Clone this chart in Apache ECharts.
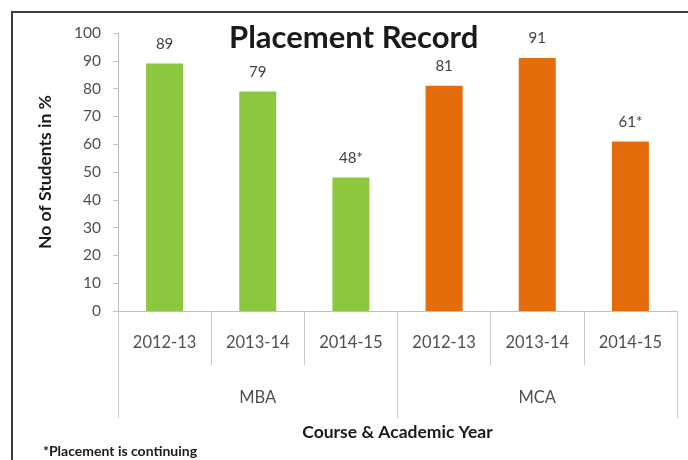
<!DOCTYPE html>
<html>
<head>
<meta charset="utf-8">
<script src="https://cdn.jsdelivr.net/npm/echarts@6/dist/echarts.min.js"></script>
<style>
  html, body {margin: 0; padding: 0; background: #fff;}
  #chart {width: 688px; height: 460px;}
</style>
</head>
<body>
<div id="chart"></div>
<script>
const years = ['2012-13', '2013-14', '2014-15', '2012-13', '2013-14', '2014-15'];
const courses = ['MBA', 'MCA'];
const mbaValues = [89, 79, 48];
const mcaValues = [81, 91, 61];
const barLabels = ['89', '79', '48*', '81', '91', '61*'];
const yTicks = [0, 10, 20, 30, 40, 50, 60, 70, 80, 90, 100];

const font = 'Lato, "Noto Sans", sans-serif';
const green = '#8CC83F';
const orange = '#E46C0A';

const chart = echarts.init(document.getElementById('chart'));

const barData = mbaValues.map(v => ({value: v, itemStyle: {color: green}}))
  .concat(mcaValues.map(v => ({value: v, itemStyle: {color: orange}})));

chart.setOption({
  animation: false,
  textStyle: {fontFamily: font},
  title: {
    text: 'Placement Record',
    left: 224,
    top: 17,
    textStyle: {fontFamily: font, fontSize: 31, fontWeight: 'bold', color: '#1a1a1a'}
  },
  grid: {left: 118, right: 11, top: 33, bottom: 149},
  xAxis: [{
    type: 'category',
    data: years,
    position: 'bottom',
    axisLine: {lineStyle: {color: '#BFBFBF', width: 1}},
    axisTick: {show: true, interval: 0, length: 54, lineStyle: {color: '#C8C8C8'}},
    axisLabel: {interval: 0, margin: 23, fontSize: 16.5, color: '#505050', fontFamily: font}
  }, {
    type: 'category',
    data: courses,
    position: 'bottom',
    axisLine: {show: false},
    axisTick: {show: true, interval: 0, length: 107, lineStyle: {color: '#C8C8C8'}},
    axisLabel: {interval: 0, margin: 78, fontSize: 16.5, color: '#505050', fontFamily: font},
    name: 'Course & Academic Year',
    nameLocation: 'middle',
    nameGap: 112,
    nameTextStyle: {fontSize: 17.5, fontWeight: 'bold', color: '#1a1a1a', fontFamily: font}
  }],
  yAxis: {
    type: 'value',
    min: yTicks[0],
    max: yTicks[yTicks.length - 1],
    interval: 10,
    axisLine: {show: true, lineStyle: {color: '#BFBFBF'}},
    axisTick: {show: true, length: 5, lineStyle: {color: '#BFBFBF'}},
    splitLine: {show: false},
    axisLabel: {margin: 17, fontSize: 15.5, color: '#505050', fontFamily: font},
    name: 'No of Students in %',
    nameLocation: 'middle',
    nameRotate: 90,
    nameGap: 64,
    nameTextStyle: {fontSize: 17.5, fontWeight: 'bold', color: '#1a1a1a', fontFamily: font}
  },
  series: [{
    type: 'bar',
    xAxisIndex: 0,
    barWidth: 37,
    data: barData,
    label: {
      show: true,
      position: 'top',
      distance: 12,
      fontSize: 15,
      color: '#404040',
      fontFamily: font,
      formatter: p => barLabels[p.dataIndex]
    }
  }],
  graphic: [{
    type: 'rect',
    shape: {x: 12, y: 12, width: 720, height: 520},
    style: {fill: 'none', stroke: '#3a3a3a', lineWidth: 2},
    silent: true
  }, {
    type: 'text',
    left: 43,
    top: 444,
    style: {text: '*Placement is continuing', font: 'bold 14px ' + font, fill: '#1a1a1a'}
  }]
});
</script>
</body>
</html>
